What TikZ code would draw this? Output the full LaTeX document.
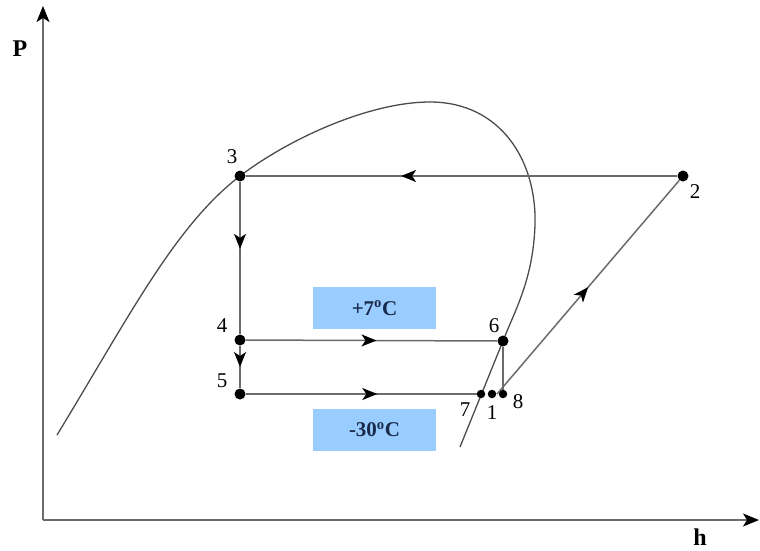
\documentclass[tikz,border=0pt]{standalone}
\usepackage{fontspec}
\setmainfont{Liberation Serif}
\usetikzlibrary{arrows.meta,decorations.markings}
\definecolor{boxblue}{HTML}{99CCFF}
\definecolor{txtblue}{HTML}{1A2A4A}
\definecolor{ln}{gray}{0.42}
\begin{document}
\begin{tikzpicture}[x=1pt,y=-1pt,
  dot/.style={circle,fill=black,inner sep=0pt,minimum size=11pt},
  smalldot/.style={circle,fill=black,inner sep=0pt,minimum size=8.5pt},
  lbl/.style={font=\fontsize{21}{24}\selectfont,inner sep=0pt},
  axlbl/.style={font=\fontsize{24}{26}\selectfont\bfseries,inner sep=0pt},
  tbox/.style={fill=boxblue,minimum width=123pt,minimum height=42pt,inner sep=0pt,text=txtblue,font=\fontsize{21}{23}\selectfont\bfseries},
  cyc/.style={draw=ln,line width=1.5pt},
  midarrow/.style={postaction={decorate},decoration={markings,mark=at position #1 with {\arrow[black]{Stealth[length=15pt,width=12pt,inset=4pt]}}}}
]
\useasboundingbox (0,0) rectangle (760,550);
% axes
\coordinate (O) at (43,520);
\coordinate (ytop) at (43,6);
\coordinate (xend) at (759,520);
\draw[ln,line width=1.5pt,-{Stealth[length=16pt,width=13pt,inset=4pt,black]}] (O) -- (ytop);
\draw[ln,line width=1.5pt,-{Stealth[length=16pt,width=13pt,inset=4pt,black]}] (O) -- (xend);
\node[axlbl] (P) at (20,49) {P};
\node[axlbl] (h) at (700,537) {h};
% dome
\draw[black!70,line width=1.3pt] (57,435) .. controls (130,315) and (175,226) .. (240,176)
  .. controls (290,138) and (370,102) .. (430,102)
  .. controls (500,102) and (537,160) .. (535,225)
  .. controls (533,280) and (515,310) .. (503,341) -- (460,447);
% points
\node[dot] (p3) at (240,176) {};
\node[dot] (p2) at (683,176) {};
\node[dot] (p4) at (240,340) {};
\node[dot] (p5) at (240,394) {};
\node[dot] (p6) at (503,341) {};
\node[smalldot] (p7) at (481,394) {};
\node[smalldot] (p1) at (492,394) {};
\node[smalldot] (p8) at (503,394) {};
\coordinate (s12) at (497,394);
% cycle lines
\draw[cyc,midarrow=0.64] (p2) -- (p3);
\draw[cyc,midarrow=0.44] (p3) -- (p4);
\draw[cyc,midarrow=0.5] (p4) -- (p5);
\draw[cyc,midarrow=0.52] (p4) -- (p6);
\draw[cyc,midarrow=0.57] (p5) -- (p7);
\draw[cyc] (p6) -- (p8);
\draw[cyc,midarrow=0.5] (s12) -- (p2);
% labels
\node[lbl] at (232,157) {3};
\node[lbl] at (695,192) {2};
\node[lbl] at (222,326) {4};
\node[lbl] at (222,381) {5};
\node[lbl] at (494,326) {6};
\node[lbl] at (465,410) {7};
\node[lbl] at (492,413) {1};
\node[lbl] at (518,402) {8};
% temperature boxes
\node[tbox] (t1) at (374.5,308) {+7\textsuperscript{o}C};
\node[tbox] (t2) at (374.5,429.5) {-30\textsuperscript{o}C};
\end{tikzpicture}
\end{document}
